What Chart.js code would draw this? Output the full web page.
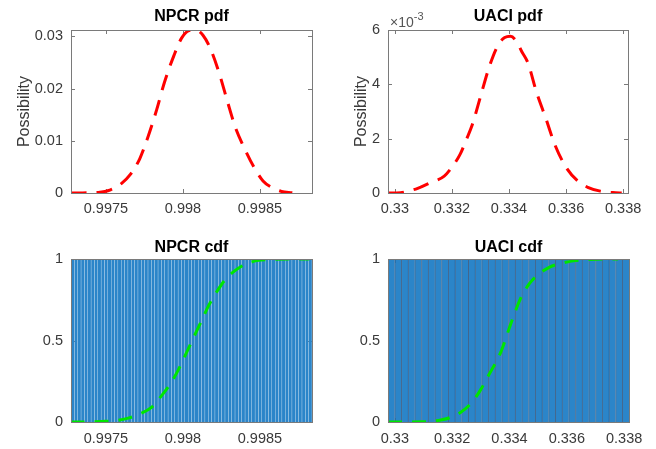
<!DOCTYPE html>
<html>
<head>
<meta charset="utf-8">
<script src="https://cdn.jsdelivr.net/npm/chart.js@4/dist/chart.umd.min.js"></script>
<style>
  body { margin: 0; background: #fff; }
  #wrap { position: relative; width: 656px; height: 449px; background: #fff; }
  canvas { position: absolute; }
</style>
</head>
<body>
<div id="wrap">
  <canvas id="npcrPdf" width="328" height="224" style="left:0;top:0"></canvas>
  <canvas id="uaciPdf" width="328" height="224" style="left:328px;top:0"></canvas>
  <canvas id="npcrCdf" width="328" height="225" style="left:0;top:224px"></canvas>
  <canvas id="uaciCdf" width="328" height="225" style="left:328px;top:224px"></canvas>
</div>
<script>
const FONT = "'Liberation Sans', Arial, sans-serif";
const RED = '#ff0000';
const GREEN = '#00e600';
const BLUE = '#2b85c9';

// NPCR
const npcrX = [0.99727, 0.99735, 0.99745, 0.99753, 0.99760, 0.99766, 0.99772, 0.99777,
  0.99783, 0.99788, 0.99794, 0.99799, 0.99804, 0.99808, 0.99813, 0.99818, 0.99824,
  0.99829, 0.99834, 0.99840, 0.99846, 0.99852, 0.99858, 0.99864, 0.99871];
const npcrPdf = [0, 0.00002, 0.0001, 0.0006, 0.0018, 0.0036, 0.0066, 0.0105,
  0.0160, 0.0212, 0.0262, 0.0296, 0.0311, 0.0312, 0.0302, 0.0275, 0.0225,
  0.0174, 0.0126, 0.0085, 0.0050, 0.0023, 0.0010, 0.0003, 0.00005];
const npcrCdfX = [0.99727, 0.99740, 0.99750, 0.99758, 0.99765, 0.99772, 0.99780, 0.99786,
  0.99792, 0.99797, 0.99802, 0.99807, 0.99812, 0.99817, 0.99822, 0.99828, 0.99834,
  0.99840, 0.99848, 0.99858, 0.99870, 0.99882];
const npcrCdf = [0, 0.001, 0.004, 0.011, 0.025, 0.05, 0.093, 0.16,
  0.237, 0.32, 0.42, 0.52, 0.62, 0.72, 0.80, 0.88, 0.93,
  0.965, 0.99, 0.997, 1, 1];
const npcrBars = [1, 1, 1, 1, 1, 1, 1, 1, 1, 1, 1, 1, 1, 1, 1, 1, 1, 1,
  1, 1, 1, 1, 1, 1, 1, 1, 1, 1, 1, 1, 1, 1, 1, 1, 1, 1,
  1, 1, 1, 1, 1, 1, 1, 1, 1, 1, 1, 1, 1, 1, 1, 1, 1, 1,
  1, 1, 1, 1, 1, 1, 1, 1, 1, 1, 1, 1, 1, 1, 1, 1, 1, 1];
const npcrTicks = [0.9975, 0.998, 0.9985];
const npcrPdfTicks = [0, 0.01, 0.02, 0.03];

// UACI
const uaciX = [0.32976, 0.3302, 0.3305, 0.3308, 0.3312, 0.33173, 0.3320, 0.33229,
  0.33250, 0.33271, 0.33301, 0.3333, 0.33363, 0.33385, 0.33405, 0.33425, 0.33445,
  0.33466, 0.33497, 0.33529, 0.33561, 0.33602, 0.3364, 0.33676, 0.3372, 0.33773, 0.33795];
const uaciPdf = [0, 0.00001, 0.00008, 0.00017, 0.00036, 0.00062, 0.00095, 0.00143,
  0.00195, 0.0025, 0.00358, 0.00462, 0.00547, 0.00572, 0.00577, 0.0056, 0.0052,
  0.0048, 0.00369, 0.00275, 0.00177, 0.00091, 0.00045, 0.00021, 0.00007, 0.00001, 0];
const uaciCdfX = [0.32976, 0.3310, 0.33123, 0.3316, 0.33191, 0.3323, 0.33272, 0.333,
  0.33328, 0.3337, 0.33404, 0.33439, 0.3347, 0.33497, 0.3354, 0.33585, 0.3363,
  0.3368, 0.3373, 0.33779];
const uaciCdf = [0, 0.001, 0.003, 0.012, 0.026, 0.06, 0.127, 0.2,
  0.29, 0.43, 0.6, 0.76, 0.85, 0.9, 0.95, 0.975, 0.99,
  0.997, 1, 1];
const uaciBars = [1, 1, 1, 1, 1, 1, 1, 1, 1, 1, 1, 1, 1, 1, 1, 1, 1, 1,
  1, 1, 1, 1, 1, 1, 1, 1, 1, 1, 1, 1, 1, 1, 1, 1, 1, 1];
const uaciTicks = [0.33, 0.332, 0.334, 0.336, 0.338];
const uaciPdfTicks = [0, 0.002, 0.004, 0.006];
const uaciPdfTickLabels = ['0', '2', '4', '6'];

const cdfTicks = [0, 0.5, 1];

Chart.defaults.font.family = FONT;
Chart.defaults.color = '#3a3a3a';

const points = (xs, ys) => xs.map((x, i) => ({ x, y: ys[i] }));

// matlab-style box: frame on all four sides, short ticks pointing inward
const axesBox = {
  id: 'axesBox',
  beforeDatasetsDraw(chart) {
    const { ctx, chartArea: a, scales } = chart;
    ctx.save();
    ctx.strokeStyle = '#7a7a7a';
    ctx.lineWidth = 1;
    ctx.beginPath();
    scales.x.ticks.forEach(t => {
      const px = Math.round(scales.x.getPixelForValue(t.value)) + 0.5;
      ctx.moveTo(px, a.bottom); ctx.lineTo(px, a.bottom - 4);
      ctx.moveTo(px, a.top); ctx.lineTo(px, a.top + 4);
    });
    scales.y.ticks.forEach(t => {
      const py = Math.round(scales.y.getPixelForValue(t.value)) + 0.5;
      ctx.moveTo(a.left, py); ctx.lineTo(a.left + 4, py);
      ctx.moveTo(a.right, py); ctx.lineTo(a.right - 4, py);
    });
    ctx.stroke();
    ctx.restore();
  },
  afterDatasetsDraw(chart) {
    const { ctx, chartArea: a } = chart;
    ctx.save();
    ctx.strokeStyle = '#7a7a7a';
    ctx.lineWidth = 1;
    ctx.strokeRect(Math.round(a.left) + 0.5, Math.round(a.top) + 0.5,
      Math.round(a.right - a.left), Math.round(a.bottom - a.top));
    ctx.restore();
  }
};

// x10^-3 multiplier above the y axis
const exponentLabel = {
  id: 'exponentLabel',
  afterDraw(chart) {
    const { ctx, chartArea: a } = chart;
    ctx.save();
    ctx.fillStyle = '#555';
    ctx.font = '14px ' + FONT;
    ctx.fillText('\u00d710', a.left + 2, a.top - 3);
    const w = ctx.measureText('\u00d710').width;
    ctx.font = '11px ' + FONT;
    ctx.fillText('-3', a.left + 2 + w, a.top - 10);
    ctx.restore();
  }
};

function xAxis(min, max, ticks, height, pad) {
  return {
    type: 'linear',
    min, max,
    offset: false,
    grid: { display: false, drawTicks: false, offset: false },
    border: { display: false },
    afterBuildTicks: s => { s.ticks = ticks.map(value => ({ value })); },
    afterFit: s => { s.height = height; },
    ticks: { padding: pad, autoSkip: false, maxRotation: 0, font: { size: 14.5 }, callback: v => String(v) }
  };
}

function yAxis(max, ticks, labels, width, titlePad) {
  return {
    min: 0, max,
    grid: { display: false, drawTicks: false },
    border: { display: false },
    afterBuildTicks: s => { s.ticks = ticks.map(value => ({ value })); },
    afterFit: s => { s.width = width; },
    ticks: { padding: 8, font: { size: 14.5 }, callback: (v, i) => labels ? labels[i] : String(v) },
    title: {
      display: titlePad !== undefined,
      text: 'Possibility',
      font: { size: 16 },
      padding: { top: titlePad || 0, bottom: 0 }
    }
  };
}

function baseOptions(title, titleTop, titleBottom, pad) {
  return {
    responsive: false,
    animation: false,
    layout: { padding: pad },
    plugins: {
      legend: { display: false },
      tooltip: { enabled: false },
      title: {
        display: true,
        text: title,
        fullSize: false,
        color: '#000',
        font: { size: 16, weight: 'bold' },
        padding: { top: titleTop, bottom: titleBottom }
      }
    }
  };
}

function pdfChart(id, title, xs, ys, xMin, xMax, xTicks, yMax, yTicks, yLabels, yWidth, titlePad, rightPad, extra) {
  const opts = baseOptions(title, 7.4, 3.4, { left: 0, right: rightPad, top: 0, bottom: 0 });
  opts.scales = {
    x: xAxis(xMin, xMax, xTicks, 31, 7.5),
    y: yAxis(yMax, yTicks, yLabels, yWidth, titlePad)
  };
  return new Chart(document.getElementById(id), {
    type: 'line',
    data: {
      datasets: [{
        data: points(xs, ys),
        borderColor: RED,
        borderWidth: 3,
        borderDash: [16, 10],
        pointRadius: 0,
        cubicInterpolationMode: 'monotone'
      }]
    },
    options: opts,
    plugins: extra ? [axesBox, extra] : [axesBox]
  });
}

function cdfChart(id, title, xs, ys, bars, xMin, xMax, xTicks, yWidth, rightPad, barStyle) {
  const opts = baseOptions(title, 14, 1.8, { left: 0, right: rightPad, top: 0, bottom: 0 });
  opts.scales = {
    x: xAxis(xMin, xMax, xTicks, 27, 8.5),
    xb: { type: 'category', display: false, offset: true },
    y: yAxis(1, cdfTicks, null, yWidth)
  };
  return new Chart(document.getElementById(id), {
    type: 'bar',
    data: {
      labels: bars.map((_, i) => i),
      datasets: [
        {
          type: 'line',
          xAxisID: 'x',
          data: points(xs, ys),
          borderColor: GREEN,
          borderWidth: 3,
          borderDash: [14, 10],
          pointRadius: 0,
          cubicInterpolationMode: 'monotone',
          order: 0
        },
        Object.assign({
          type: 'bar',
          xAxisID: 'xb',
          data: bars,
          backgroundColor: BLUE,
          categoryPercentage: 1,
          grouped: false,
          order: 1
        }, barStyle)
      ]
    },
    options: opts,
    plugins: [axesBox]
  });
}

pdfChart('npcrPdf', 'NPCR pdf', npcrX, npcrPdf, 0.997273, 0.998838, npcrTicks,
  0.0312, npcrPdfTicks, null, 71, 15, 16);
pdfChart('uaciPdf', 'UACI pdf', uaciX, uaciPdf, 0.32976, 0.33817, uaciTicks,
  0.006, uaciPdfTicks, uaciPdfTickLabels, 60, 24, 28, exponentLabel);
cdfChart('npcrCdf', 'NPCR cdf', npcrCdfX, npcrCdf, npcrBars, 0.997273, 0.998838, npcrTicks,
  71, 16, { barPercentage: 0.9, borderWidth: 0 });
cdfChart('uaciCdf', 'UACI cdf', uaciCdfX, uaciCdf, uaciBars, 0.32976, 0.33817, uaciTicks,
  60, 27, { barPercentage: 1, borderColor: 'rgba(20, 60, 105, 0.75)',
    borderWidth: { left: 1, right: 0, top: 0, bottom: 0 } });
</script>
</body>
</html>
